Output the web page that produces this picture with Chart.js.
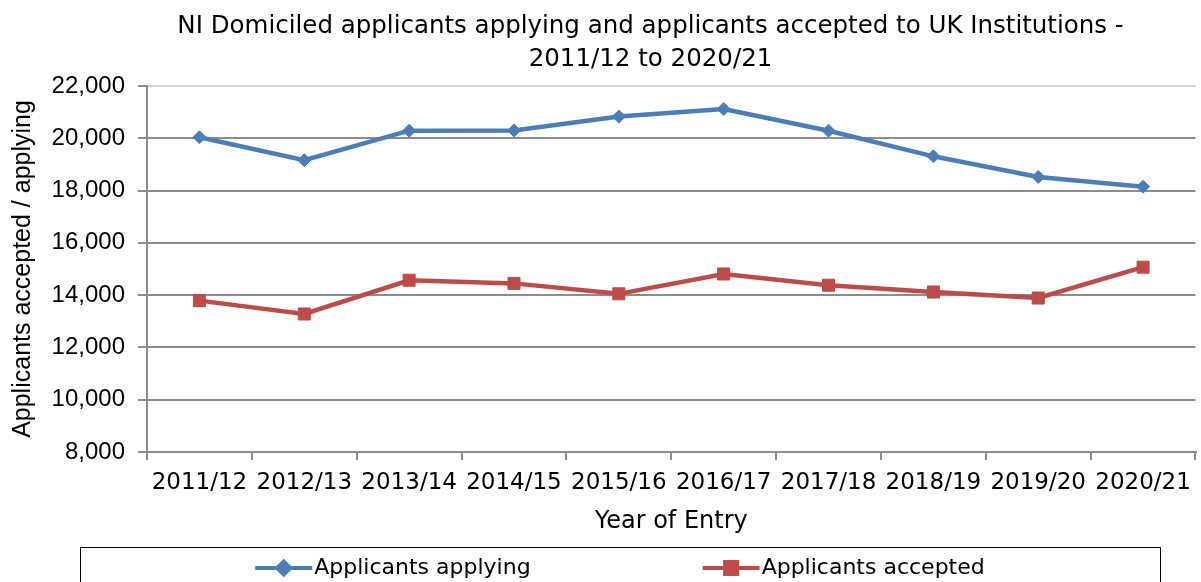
<!DOCTYPE html>
<html>
<head>
<meta charset="utf-8">
<script src="https://cdn.jsdelivr.net/npm/chart.js@4/dist/chart.umd.min.js"></script>
<style>
  html, body { margin: 0; padding: 0; background: #fff; overflow: hidden; }
  #wrap { width: 1201px; height: 582px; overflow: hidden; }
  canvas { display: block; }
</style>
</head>
<body>
<div id="wrap"><canvas id="chart" width="1205" height="582"></canvas></div>
<script>
// values
const years = ['2011/12', '2012/13', '2013/14', '2014/15', '2015/16', '2016/17', '2017/18', '2018/19', '2019/20', '2020/21'];
const applying = [20040, 19160, 20290, 20300, 20830, 21120, 20290, 19310, 18520, 18150];
const accepted = [13790, 13280, 14570, 14450, 14050, 14810, 14380, 14120, 13890, 15070];

const BLUE = '#4a7ebb';
const RED = '#be4b48';
const GRID = '#8c8c8c';

// legend drawn as a boxed row with line+marker symbols, like the original
const boxedLegend = {
    id: 'boxedLegend',
    afterLayout(chart) {
        // the original title sits a bit right of the canvas centre
        if (chart.titleBlock) chart.titleBlock.left = 96;
    },
    afterDraw(chart) {
        const ctx = chart.ctx;
        const boxL = 80, boxR = 1160, boxT = 547.5;
        ctx.save();
        ctx.strokeStyle = '#000';
        ctx.lineWidth = 1;
        ctx.strokeRect(boxL + 0.5, boxT, boxR - boxL, 60);

        ctx.font = '22px "DejaVu Sans"';
        ctx.textBaseline = 'middle';
        ctx.fillStyle = '#000';
        const symW = 57, textGap = 2, itemGap = 172;
        const items = chart.data.datasets.map(ds => ({
            ds: ds,
            w: symW + textGap + ctx.measureText(ds.label).width
        }));
        const total = items.reduce((a, it) => a + it.w, 0) + itemGap * (items.length - 1);
        let x = (boxL + boxR) / 2 - total / 2;
        const y = 568;
        items.forEach(it => {
            const ds = it.ds;
            ctx.strokeStyle = ds.borderColor;
            ctx.lineWidth = 4;
            ctx.beginPath();
            ctx.moveTo(x, y);
            ctx.lineTo(x + symW, y);
            ctx.stroke();
            Chart.helpers.drawPoint(ctx, {
                pointStyle: ds.pointStyle,
                radius: ds.pointRadius,
                borderWidth: 1
            }, x + symW / 2, y);
            ctx.fillStyle = ds.borderColor;
            ctx.fill();
            ctx.fillStyle = '#000';
            ctx.fillText(ds.label, x + symW + textGap, y);
            x += it.w + itemGap;
        });
        ctx.restore();
    }
};

const ctx = document.getElementById('chart').getContext('2d');
new Chart(ctx, {
    type: 'line',
    data: {
        labels: years,
        datasets: [{
            label: 'Applicants applying',
            data: applying,
            borderColor: BLUE,
            backgroundColor: BLUE,
            borderWidth: 4.5,
            pointStyle: 'rectRot',
            pointRadius: 6.5,
            pointBorderWidth: 1,
            tension: 0
        }, {
            label: 'Applicants accepted',
            data: accepted,
            borderColor: RED,
            backgroundColor: RED,
            borderWidth: 4.5,
            pointStyle: 'rect',
            pointRadius: 8.5,
            pointBorderWidth: 1,
            tension: 0
        }]
    },
    options: {
        responsive: false,
        animation: false,
        layout: { padding: { left: 0, right: 0, top: 0, bottom: 35 } },
        plugins: {
            legend: { display: false },
            tooltip: { enabled: false },
            title: {
                display: true,
                text: ['NI Domiciled applicants applying and applicants accepted to UK Institutions -', '2011/12 to 2020/21'],
                color: '#000',
                font: { family: '"DejaVu Sans"', size: 24.5, weight: 'normal', lineHeight: '33px' },
                padding: { top: 10, bottom: 10 }
            }
        },
        scales: {
            x: {
                offset: true,
                afterFit(scale) { scale.height = 95; },
                grid: {
                    offset: true,
                    drawOnChartArea: false,
                    drawTicks: true,
                    tickLength: 8,
                    tickColor: GRID,
                    lineWidth: 2
                },
                border: { display: true, color: GRID, width: 2 },
                ticks: {
                    color: '#000',
                    maxRotation: 0,
                    autoSkip: false,
                    padding: 9,
                    font: { family: '"DejaVu Sans"', size: 23 }
                },
                title: {
                    display: true,
                    text: 'Year of Entry',
                    color: '#000',
                    font: { family: '"DejaVu Sans"', size: 24 },
                    padding: { top: 0, bottom: 11 }
                }
            },
            y: {
                min: 8000,
                max: 22000,
                afterFit(scale) { scale.width = 147; },
                grid: {
                    color: c => (c.tick && c.tick.value === 22000 ? '#d4d4d4' : GRID),
                    tickColor: GRID,
                    lineWidth: 2,
                    tickLength: 9
                },
                border: { display: true, color: GRID, width: 2 },
                ticks: {
                    stepSize: 2000,
                    color: '#000',
                    padding: 13,
                    font: { family: '"Liberation Sans"', size: 24 },
                    callback: v => v.toLocaleString('en-GB')
                },
                title: {
                    display: true,
                    text: 'Applicants accepted / applying',
                    color: '#000',
                    font: { family: '"Liberation Sans"', size: 25 },
                    padding: { top: 8, bottom: 0 }
                }
            }
        }
    },
    plugins: [boxedLegend]
});
</script>
</body>
</html>
